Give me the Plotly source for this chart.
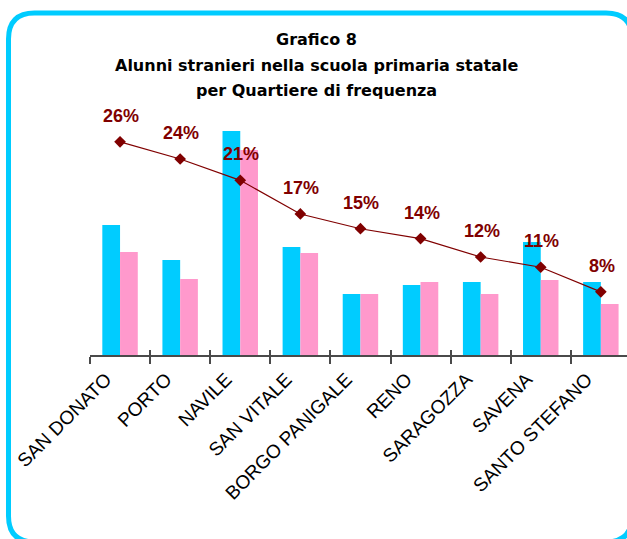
import plotly.graph_objects as go

# ---- data ----
quartieri = ["SAN DONATO", "PORTO", "NAVILE", "SAN VITALE", "BORGO PANIGALE",
             "RENO", "SARAGOZZA", "SAVENA", "SANTO STEFANO"]
maschi = [260, 190, 448, 216, 122, 140, 146, 226, 146]
femmine = [206, 152, 410, 204, 122, 146, 122, 150, 102]
percentuale = [26.0, 23.9, 21.3, 17.2, 15.4, 14.2, 11.95, 10.7, 7.7]
title_lines = ["Grafico 8",
               "Alunni stranieri nella scuola primaria statale",
               "per Quartiere di frequenza"]

# ---- layout geometry (pixels) ----
W, H = 627, 539
ML, MR, MT, MB = 90, 0, 120, 184
PW, PH = W - ML - MR, H - MT - MB
AXIS_Y = H - MB

def xp(px):
    return (px - ML) / PW

def yp(py):
    return (AXIS_Y - py) / PH

FONT = "Liberation Sans, Arial, sans-serif"
TFONT = "DejaVu Sans, Liberation Sans, Arial, sans-serif"
BLUE = "#00CCFF"
PINK = "#FF99CC"
RED = "#800000"
AXC = "#4a4a4a"

fig = go.Figure()
fig.add_trace(go.Bar(x=quartieri, y=maschi, marker=dict(color=BLUE, line_width=0),
                     name="Maschi", showlegend=False))
fig.add_trace(go.Bar(x=quartieri, y=femmine, marker=dict(color=PINK, line_width=0),
                     name="Femmine", showlegend=False))
fig.add_trace(go.Scatter(x=quartieri, y=percentuale, yaxis="y2", mode="lines+markers",
                         line=dict(color=RED, width=1.2),
                         marker=dict(symbol="diamond", size=9, color=RED),
                         showlegend=False, cliponaxis=False))
# helper empty trace so the overlay tick axis is drawn
fig.add_trace(go.Scatter(x=[], y=[], xaxis="x2", yaxis="y", showlegend=False))

n = len(quartieri)
x_range = [-0.5, -0.5 + PW / 60.1]

annotations = []
for q, v in zip(quartieri, percentuale):
    annotations.append(dict(x=q, y=v, xref="x", yref="y2", text=f"{round(v)}%",
                            showarrow=False, yshift=26, xshift=1,
                            font=dict(family=FONT, size=18, color=RED, weight="bold")))

title_y = [40, 65, 90]
for t, py in zip(title_lines, title_y):
    annotations.append(dict(x=xp(316), y=yp(py), xref="paper", yref="paper", text=t,
                            showarrow=False, xanchor="center", yanchor="middle",
                            font=dict(family=TFONT, size=16, color="black", weight="bold")))

# rounded border
x0, x1, y0, y1, r = 8.5, 632, 13, 542, 26
pts = [("M", x0 + r, y0), ("L", x1 - r, y0), ("Q", x1, y0, x1, y0 + r),
       ("L", x1, y1 - r), ("Q", x1, y1, x1 - r, y1), ("L", x0 + r, y1),
       ("Q", x0, y1, x0, y1 - r), ("L", x0, y0 + r), ("Q", x0, y0, x0 + r, y0)]
path = ""
for p in pts:
    cmd, coords = p[0], p[1:]
    s = []
    for i in range(0, len(coords), 2):
        s.append(f"{xp(coords[i]):.5f},{yp(coords[i+1]):.5f}")
    path += cmd + " ".join(s) + " "
path += "Z"

fig.update_layout(
    width=W, height=H,
    margin=dict(l=ML, r=MR, t=MT, b=MB, pad=0),
    paper_bgcolor="white", plot_bgcolor="white",
    barmode="group", bargap=0.41, bargroupgap=0,
    font=dict(family=FONT, color="black"),
    xaxis=dict(type="category", range=x_range, autorange=False,
               tickson="boundaries", ticks="outside", ticklen=7, tickwidth=1.5,
               tickcolor=AXC, showline=True, linecolor=AXC, linewidth=1.5,
               tickangle=-45, tickfont=dict(family=FONT, size=19, color="black"),
               ticklabelshift=-14, ticklabelstandoff=4,
               showgrid=False, zeroline=False),
    xaxis2=dict(type="linear", range=x_range, autorange=False, overlaying="x",
                anchor="y", side="bottom",
                tickvals=[i - 0.5 for i in range(n)], ticks="inside", ticklen=5,
                tickwidth=1.5, tickcolor=AXC, showticklabels=False,
                showline=False, showgrid=False, zeroline=False),
    yaxis=dict(range=[0, PH * 2], autorange=False, visible=False, showgrid=False),
    yaxis2=dict(range=[0, PH / 8.2], autorange=False, overlaying="y", visible=False,
                showgrid=False),
    annotations=annotations,
    shapes=[dict(type="path", path=path, xref="paper", yref="paper",
                 line=dict(color=BLUE, width=5), layer="above")],
)

fig.write_html("out.html", config={"displayModeBar": False},
               post_script="document.body.style.margin='0';"
                           "document.body.style.overflow='hidden';")
